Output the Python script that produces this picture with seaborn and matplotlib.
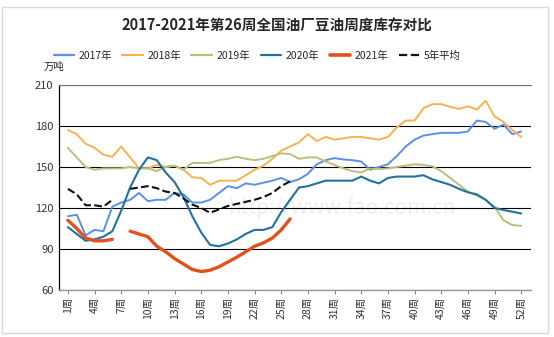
import numpy as np
import pandas as pd
import matplotlib
matplotlib.use("Agg")
import matplotlib.pyplot as plt
from matplotlib.lines import Line2D
from matplotlib.patches import Rectangle
import seaborn as sns

sns.set_style("white")
plt.rcParams['font.family'] = ['Noto Sans CJK SC', 'DejaVu Sans']

weeks = list(range(1, 53))
tick_weeks = list(range(1, 53, 3))
tick_labels = [f"{w}周" for w in tick_weeks]

y2017 = [114, 115, 100, 104, 103, 121, 124, 126, 131, 125, 126, 126, 131, 130, 124, 124, 126, 131, 136, 134.5,
         138, 137, 138.5, 140, 142, 139, 141, 145, 152, 155, 156.5, 155.5, 155, 154, 148, 150, 152, 158, 165, 170,
         173, 174, 175, 175, 175, 176, 184, 183, 178, 181, 174, 176]
y2018 = [177, 174, 167, 164, 159, 157.5, 165, 157, 149, 149, 151.5, 150, 151, 148, 142.5, 142, 137, 140, 140, 140,
         144, 148, 151, 156, 162, 165, 168, 174, 169, 172, 170, 171, 172, 172, 171, 170, 172, 179, 184, 184,
         193, 196, 196, 194, 192.5, 194.5, 192, 198.5, 187, 183, 177, 172]
y2019 = [164, 157, 150, 148, 149, 149, 149, 150, 149, 149, 147, 150, 151, 148, 153, 153, 153, 155, 156, 157.5,
         156, 155, 156, 158, 160, 159.5, 156, 157, 157, 154, 151.5, 149, 147, 146, 149, 148.5, 149, 150, 151, 152,
         151.5, 150.5, 147, 142, 137, 132, 129, 126, 121, 111, 107.5, 107]
y2020 = [106, 101, 96, 97, 99, 103, 118, 135, 148, 157, 155, 146, 139, 128, 114, 102, 93, 92, 94, 97,
         101, 104, 104, 106, 117, 126, 135, 136, 138, 140, 140, 140, 140, 143, 140, 138, 142, 143, 143, 143,
         144, 141, 139, 137, 134, 131.5, 130, 126, 120, 118.5, 117.3, 116]
y2021 = [111, 105, 98, 96, 96, 97, np.nan, 103, 101, 99, 92, 88, 83, 79, 75, 73.5, 74.5, 77, 80.5, 84,
         88, 92, 94.5, 98, 104, 112] + [np.nan] * 26
yavg = [134, 130, 122, 122, 121, 126, np.nan, 134, 135, 136, 134.5, 132, 131, 127, 122.5, 120, 116.5, 119, 121.5, 123,
        124.5, 126, 128, 131, 136, 139.5] + [np.nan] * 26

series_names = ["2017年", "2018年", "2019年", "2020年", "2021年", "5年平均"]
series_vals = [y2017, y2018, y2019, y2020, y2021, yavg]
colors = ["#5b8fe8", "#f7b24f", "#bcbd78", "#22719e", "#e2501c", "#111111"]
widths = [1.4, 1.4, 1.4, 1.5, 2.4, 1.5]
styles = ["-", "-", "-", "-", "-", "--"]

rows = []
for name, vals in zip(series_names, series_vals):
    seg = 0
    for w, v in zip(weeks, vals):
        if v is None or (isinstance(v, float) and np.isnan(v)):
            seg += 1
            continue
        rows.append({"week": w, "value": v, "series": name, "seg": seg})
df = pd.DataFrame(rows)

fig = plt.figure(figsize=(5.54, 3.37), dpi=100)
fig.patches.append(Rectangle((2 / 554, 1 - 333 / 337), 546 / 554, 326 / 337, transform=fig.transFigure,
                             fill=False, edgecolor="#d9d9d9", lw=1.0))
ax = fig.add_axes([59 / 554, 1 - 290 / 337, 472 / 554, 205 / 337])

# faint watermark
ax.text(0.6, 0.40, "http://www.fao.com.cn", transform=ax.transAxes, ha="center", va="center",
        fontsize=15, color="#efefef", zorder=0)

for name, c, lw, ls in zip(series_names, colors, widths, styles):
    sub = df[df["series"] == name]
    sns.lineplot(data=sub, x="week", y="value", units="seg", estimator=None, color=c, lw=lw,
                 linestyle=ls, ax=ax, legend=False, zorder=3)

ax.set_xlim(0, 53.1)
ax.set_ylim(60, 210)
ax.set_yticks(range(60, 211, 30))
ax.set_xticks(tick_weeks)
ax.set_xticklabels(tick_labels, rotation=90, fontsize=7.5)
ax.tick_params(axis="y", labelsize=8, length=0, pad=4, colors="#333333")
ax.tick_params(axis="x", length=3, width=0.8, color="#888888", pad=2, colors="#333333", direction="out")
ax.tick_params(axis="x", bottom=True)
ax.set_xlabel("")
ax.set_ylabel("")
ax.yaxis.grid(True, color="black", lw=0.8)
ax.xaxis.grid(False)
for s in ["top", "right"]:
    ax.spines[s].set_visible(False)
ax.spines["left"].set_color("black")
ax.spines["left"].set_linewidth(0.9)
ax.spines["bottom"].set_color("#999999")
ax.spines["bottom"].set_linewidth(1.0)
ax.spines["top"].set_visible(True)
ax.spines["top"].set_color("#777777")
ax.spines["top"].set_linewidth(0.8)

fig.text(277 / 554, 1 - 26 / 337, "2017-2021年第26周全国油厂豆油周度库存对比", ha="center", va="center",
         fontsize=10.5, fontweight="bold")
fig.text(44 / 554, 1 - 67 / 337, "万吨", ha="left", va="center", fontsize=7.5)

handles = [Line2D([], [], color=c, lw=(2.6 if n == "2021年" else 1.6), linestyle=ls)
           for n, c, ls in zip(series_names, colors, styles)]
fig.legend(handles, series_names, loc="center", bbox_to_anchor=(257 / 554, 1 - 56 / 337), ncol=6,
           frameon=False, fontsize=7.5, handlelength=2.0, columnspacing=1.0, handletextpad=0.4)

fig.savefig("out.png", dpi=100)
